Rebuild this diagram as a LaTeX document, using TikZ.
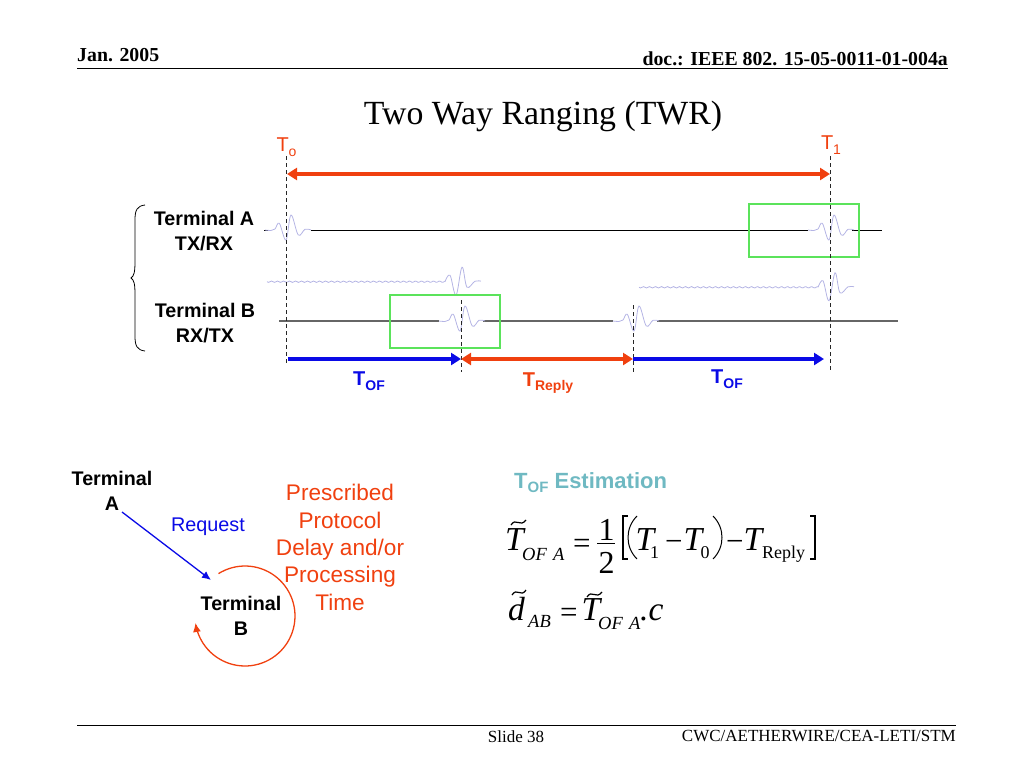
\documentclass[tikz,border=0pt]{standalone}
\usepackage{fontspec}
\setmainfont{Liberation Sans}
\newfontfamily\tmr{Liberation Serif}
\usetikzlibrary{arrows.meta}
\definecolor{redo}{HTML}{F0400F}
\definecolor{blu}{HTML}{0A0AE6}
\definecolor{grn}{HTML}{5BE35B}
\definecolor{puls}{HTML}{B4B4E4}
\definecolor{tealt}{HTML}{6FB9C2}
\newcommand\fsz[2]{\fontsize{#1}{#2}\selectfont}
\newcommand\subs[2]{\raisebox{-0.22em}{\fsz{#1}{#1}#2}}
\tikzset{
  lbl/.style={inner sep=0pt,align=center},
  bas/.style={inner sep=0pt,anchor=base west},
  term/.style={lbl,font=\fsz{19.7}{25}\bfseries},
  headt/.style={inner sep=0pt,font=\tmr\fsz{19.8}{21}\bfseries},
  foot/.style={inner sep=0pt,font=\tmr\fsz{17}{19}},
  mi/.style={bas,font=\tmr\fsz{33.5}{34}\itshape},
  mn/.style={bas,font=\tmr\fsz{32}{32}},
  ms/.style={bas,font=\tmr\fsz{18.5}{20}\itshape},
  mr/.style={bas,font=\tmr\fsz{18}{20}},
  dashv/.style={dash pattern=on 4pt off 3pt,line width=1pt,black!85},
  bigarrow/.style={line width=3.4pt,-{Triangle[length=10pt,width=12pt]}},
  bigarrow2/.style={line width=3.4pt,{Triangle[length=10pt,width=12pt]}-{Triangle[length=10pt,width=12pt]}},
  greenbox/.style={draw=grn,line width=1.1pt},
  pulsed/.style={draw=puls,line width=.8pt},
  tildemark/.style={line width=1.2pt},
  txpulse/.pic={\draw[pulsed] plot[smooth,tension=.6] coordinates
    {(0,0) (6,.5) (10,-1) (14.3,-6.7) (21,10) (26,-15) (33.3,5) (40,-.7) (46,0)};},
  rxpulse/.pic={\draw[pulsed] plot[smooth,tension=.6] coordinates
    {(0,0) (5,-6.5) (11,13.5) (17,-14.5) (22,5.5) (30,-.5) (36,-.5)};},
}
\begin{document}
\begin{tikzpicture}[x=1pt,y=-1pt]
\useasboundingbox (0,0) rectangle (1024,768);
% header & footer
\node[headt,anchor=base west] (jan) at (77,61) {Jan. 2005};
\node[headt,anchor=base east] (doc) at (948,65) {doc.: IEEE 802. 15-05-0011-01-004a};
\coordinate (hl) at (77,68); \coordinate (hr) at (948,68);
\draw[line width=1pt] (hl) -- (hr);
\coordinate (fl) at (77,725); \coordinate (fr) at (956,725);
\draw[line width=1pt] (fl) -- (fr);
\node[foot,anchor=base] (slide) at (516,742) {Slide 38};
\node[foot,anchor=base east] (cwc) at (956,741) {CWC/AETHERWIRE/CEA-LETI/STM};
\node[inner sep=0pt,anchor=base,font=\tmr\fsz{33.8}{36}] (title) at (543,124) {Two Way Ranging (TWR)};
% time labels
\node[lbl,text=redo,font=\fsz{20}{22}] (t0) at (286.5,147) {T\subs{14}{o}};
\node[lbl,text=redo,font=\fsz{20}{22}] (t1) at (831,145) {T\subs{14}{1}};
% waveforms, terminal A
\coordinate (a0) at (264,230); \coordinate (a1) at (311,230); \coordinate (a2) at (808,230);
\coordinate (a3) at (852,230); \coordinate (a4) at (882,230); \coordinate (a00) at (268,230);
\draw[line width=.9pt] (a0) -- (a00) (a1) -- (a2) (a3) -- (a4);
\pic at (265,230) {txpulse};
\pic at (808,230) {txpulse};
% waveforms, terminal B
\coordinate (b0) at (279,321); \coordinate (b1) at (439,321); \coordinate (b2) at (483,321);
\coordinate (b3) at (613,321); \coordinate (b4) at (657,321); \coordinate (b5) at (898,321);
\draw[line width=1.3pt,black!60] (b0) -- (b1) (b2) -- (b3) (b4) -- (b5);
\pic at (439,321) {txpulse};
\pic at (613,321) {txpulse};
% incoming waves
\draw[pulsed] plot[domain=0:178,samples=120] ({267+\x},{281.7+.7*sin(\x*60)});
\draw[pulsed] plot[domain=0:179,samples=120] ({639+\x},{287.3+.7*sin(\x*60)});
\pic at (445,281.7) {rxpulse};
\pic at (818,287.3) {rxpulse};
% green boxes
\node[greenbox,inner sep=0pt,minimum width=110pt,minimum height=53pt] (gA) at (804,230.5) {};
\node[greenbox,inner sep=0pt,minimum width=110pt,minimum height=53pt] (gB) at (445,321.5) {};
% dashed guides
\coordinate (d0t) at (286,156); \coordinate (d0b) at (286,365);
\coordinate (d1t) at (461,300); \coordinate (d1b) at (461,372);
\coordinate (d2t) at (633,305); \coordinate (d2b) at (633,372);
\coordinate (d3t) at (830,156); \coordinate (d3b) at (830,371);
\draw[dashv] (d0t) -- (d0b);
\draw[dashv] (d1t) -- (d1b);
\draw[dashv] (d2t) -- (d2b);
\draw[dashv] (d3t) -- (d3b);
% brace
\coordinate (brt) at (145,205); \coordinate (brm) at (131,278); \coordinate (brb) at (145,351);
\draw[line width=.8pt] (brt) .. controls (137,206) and (135,210) .. (135,220) -- (135,262)
  .. controls (135,272) and (134,276) .. (brm) .. controls (134,280) and (135,284) .. (135,294)
  -- (135,336) .. controls (135,346) and (137,350) .. (brb);
\node[term] (ta) at (204,231.5) {Terminal A\\TX/RX};
\node[term] (tb) at (205,323.5) {Terminal B\\RX/TX};
% span arrows
\coordinate (s0) at (287,174); \coordinate (s1) at (830,174);
\draw[bigarrow2,redo] (s0) -- (s1);
\coordinate (p0) at (288,359); \coordinate (p1) at (461,359); \coordinate (p2) at (633,359); \coordinate (p3) at (824,359);
\draw[bigarrow,blu] (p0) -- (p1);
\draw[bigarrow2,redo] (p1) -- (p2);
\draw[bigarrow,blu] (p2) -- (p3);
\node[lbl,text=blu,font=\fsz{20}{22}\bfseries] (tof1) at (369,381) {T\subs{14}{OF}};
\node[lbl,text=redo,font=\fsz{20}{22}\bfseries] (trep) at (548,383) {T\subs{14}{Reply}};
\node[lbl,text=blu,font=\fsz{20}{22}\bfseries] (tof2) at (727,379) {T\subs{14}{OF}};
% lower left
\node[term] (tA) at (112,490.5) {Terminal\\A};
\node[term] (tB) at (241,615.5) {Terminal\\B};
\coordinate (rq0) at (122,512); \coordinate (rq1) at (211,580);
\draw[blu,line width=1.3pt,-{Latex[length=9pt,width=8pt]}] (rq0) -- (rq1);
\node[lbl,text=blu,font=\fsz{19.8}{22}] (req) at (208,527) {Request};
\draw[redo,line width=1.3pt,-{Latex[length=9pt,width=8pt]}]
  plot[domain=-122:172,samples=70,smooth] ({245+50*cos(\x)},{616+50*sin(\x)});
\node[lbl,text=redo,font=\fsz{22.6}{27.3}] (presc) at (340,547.5) {Prescribed\\Protocol\\Delay and/or\\Processing\\Time};
% estimation
\node[bas,text=tealt,font=\fsz{22}{24}\bfseries] (est) at (514,488) {T\subs{15}{OF} Estimation};
\node[mi] (e1T) at (505,550) {T};
\draw[tildemark] (511,525) .. controls (516,517) and (520,528) .. (526,520);
\node[ms] (e1s) at (522,560) {OF\,\,A};
\node[bas,font=\tmr\fsz{31}{31}] (e1eq) at (573,553) {=};
\node[mn] (e1n) at (598.5,540) {1};
\coordinate (fb0) at (597,543); \coordinate (fb1) at (615,543);
\draw[line width=1pt] (fb0) -- (fb1);
\node[mn] (e1d) at (598.5,573) {2};
\draw[line width=1.2pt] (628,516) -- (623,516) -- (623,559) -- (628,559);
\draw[line width=1.2pt] (810,516) -- (815,516) -- (815,559) -- (810,559);
\draw[line width=1pt] (637,516) .. controls (625,528) and (625,547) .. (637,559);
\draw[line width=1pt] (713,516) .. controls (725,528) and (725,547) .. (713,559);
\node[mi] (e1T1) at (635.5,550) {T};
\node[mr] (e1s1) at (650,558) {1};
\node[bas,font=\tmr\fsz{31}{31}] (e1m1) at (665,551) {−};
\node[mi] (e1T0) at (683.5,550) {T};
\node[mr] (e1s0) at (700.5,558) {0};
\node[bas,font=\tmr\fsz{31}{31}] (e1m2) at (726,551) {−};
\node[mi] (e1T2) at (743.5,550) {T};
\node[mr] (e1sr) at (762,558) {Reply};
\node[mi] (e2d) at (508,620) {d};
\draw[tildemark] (512,595) .. controls (517,587) and (521,598) .. (526,590);
\node[ms] (e2s) at (528,627) {AB};
\node[bas,font=\tmr\fsz{31}{31}] (e2eq) at (560,622) {=};
\node[mi] (e2T) at (581.5,620) {T};
\draw[tildemark] (587,597) .. controls (592,589) and (596,600) .. (602,592);
\node[ms] (e2s2) at (598,629) {OF\,\,A};
\node[mi] (e2c) at (640,620) {.c};
\end{tikzpicture}
\end{document}
